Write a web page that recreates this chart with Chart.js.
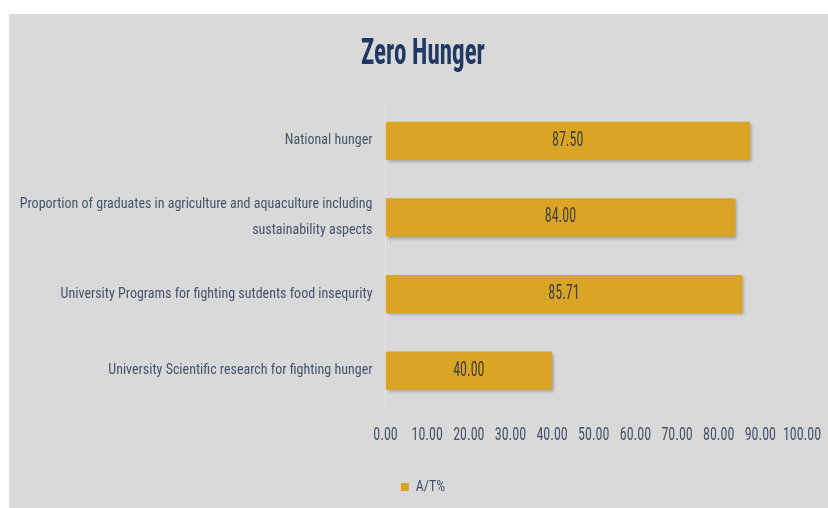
<!DOCTYPE html>
<html>
<head>
<meta charset="utf-8">
<script src="https://cdn.jsdelivr.net/npm/chart.js@4"></script>
<style>
  html, body { margin: 0; padding: 0; background: #ffffff; }
  #wrap { position: absolute; left: 9px; top: 14px; width: 819px; height: 494px; background: #d9d9d9; }
  canvas { display: block; }
</style>
</head>
<body>
<div id="wrap"><canvas id="c" width="819" height="494"></canvas></div>
<script>
const categories = [
  "National hunger",
  ["Proportion of graduates in agriculture and aquaculture including", "sustainability aspects"],
  "University Programs for fighting sutdents food insequrity",
  "University Scientific research for fighting hunger"
];
const seriesName = "A/T%";
const values = [87.50, 84.00, 85.71, 40.00];
const tickValues = [0, 10, 20, 30, 40, 50, 60, 70, 80, 90, 100];

const FONT = "'Roboto Condensed', 'DejaVu Sans Condensed', sans-serif";
const TEXT = '#44546a';

// The source uses a tall, very narrow typeface; emulate it by stretching
// the library-drawn text vertically around its centre line.
function stretchY(ctx, y0, k, fn) {
  ctx.save();
  ctx.translate(0, y0);
  ctx.scale(1, k);
  ctx.translate(0, -y0);
  fn();
  ctx.restore();
}

const tallText = {
  id: 'tallText',
  beforeDraw(chart) {
    const t = chart.titleBlock;
    if (t && !t._tall) {
      const orig = t.draw;
      t.draw = function () {
        const o = this.options;
        const f = Chart.helpers.toFont(o.font);
        const y0 = this.top + o.padding.top + f.lineHeight / 2;
        stretchY(this.ctx, y0, 1.45, () => orig.call(this));
      };
      t._tall = true;
    }
    const xs = chart.scales.x;
    if (xs && !xs._tall) {
      const origL = xs.drawLabels;
      xs.drawLabels = function (ca) {
        const o = this.options.ticks;
        const y0 = this.top + o.padding + 14 * 1.2 / 2;
        stretchY(this.ctx, y0, 1.25, () => origL.call(this, ca));
      };
      xs._tall = true;
    }
  }
};

const shadowPlugin = {
  id: 'barShadow',
  beforeDatasetDraw(chart) {
    const ctx = chart.ctx;
    ctx.save();
    ctx.shadowColor = 'rgba(0,0,0,0.28)';
    ctx.shadowBlur = 3;
    ctx.shadowOffsetX = 2;
    ctx.shadowOffsetY = 2;
  },
  afterDatasetDraw(chart) {
    chart.ctx.restore();
  }
};

const valueLabels = {
  id: 'valueLabels',
  afterDatasetsDraw(chart) {
    const ctx = chart.ctx;
    const meta = chart.getDatasetMeta(0);
    meta.data.forEach((bar, i) => {
      const x = (bar.x + bar.base) / 2;
      ctx.save();
      ctx.translate(x, bar.y);
      ctx.scale(1, 1.4);
      ctx.font = "14px " + FONT;
      ctx.fillStyle = '#404040';
      ctx.textAlign = 'center';
      ctx.textBaseline = 'middle';
      ctx.fillText(values[i].toFixed(2), 0, 0);
      ctx.restore();
    });
  }
};

new Chart(document.getElementById('c'), {
  type: 'bar',
  data: {
    labels: categories,
    datasets: [{
      label: seriesName,
      data: values,
      backgroundColor: '#daa425',
      borderWidth: 0,
      barPercentage: 0.5,
      categoryPercentage: 1.0
    }]
  },
  options: {
    indexAxis: 'y',
    responsive: false,
    animation: false,
    layout: { padding: { left: 9, right: 0, top: 0, bottom: 4 } },
    plugins: {
      title: {
        display: true,
        text: 'Zero Hunger',
        color: '#1f3864',
        font: { family: FONT, size: 25, weight: 'bold', lineHeight: 1.2 },
        padding: { top: 26, bottom: 32.5 }
      },
      legend: {
        position: 'bottom',
        labels: {
          color: TEXT,
          font: { family: FONT, size: 14 },
          boxWidth: 8,
          boxHeight: 8,
          padding: 9
        }
      },
      tooltip: { enabled: false }
    },
    scales: {
      x: {
        min: 0,
        max: 100,
        afterBuildTicks(scale) { scale.ticks = tickValues.map(v => ({ value: v })); },
        afterFit(scale) { scale.height = 62; scale.paddingLeft = 0; scale.paddingRight = 26; },
        grid: { display: false, drawTicks: false },
        border: { display: false },
        ticks: {
          color: TEXT,
          font: { family: FONT, size: 14 },
          padding: 18,
          maxRotation: 0,
          autoSkip: false,
          callback: v => Number(v).toFixed(2)
        }
      },
      y: {
        afterFit(scale) { scale.width = 367.5; },
        grid: { display: false, drawTicks: false },
        border: { display: true, color: 'rgba(255,255,255,0.35)', width: 1 },
        ticks: {
          color: TEXT,
          font: { family: FONT, size: 14, lineHeight: 1.9 },
          padding: 13,
          autoSkip: false
        }
      }
    }
  },
  plugins: [tallText, shadowPlugin, valueLabels]
});
</script>
</body>
</html>
